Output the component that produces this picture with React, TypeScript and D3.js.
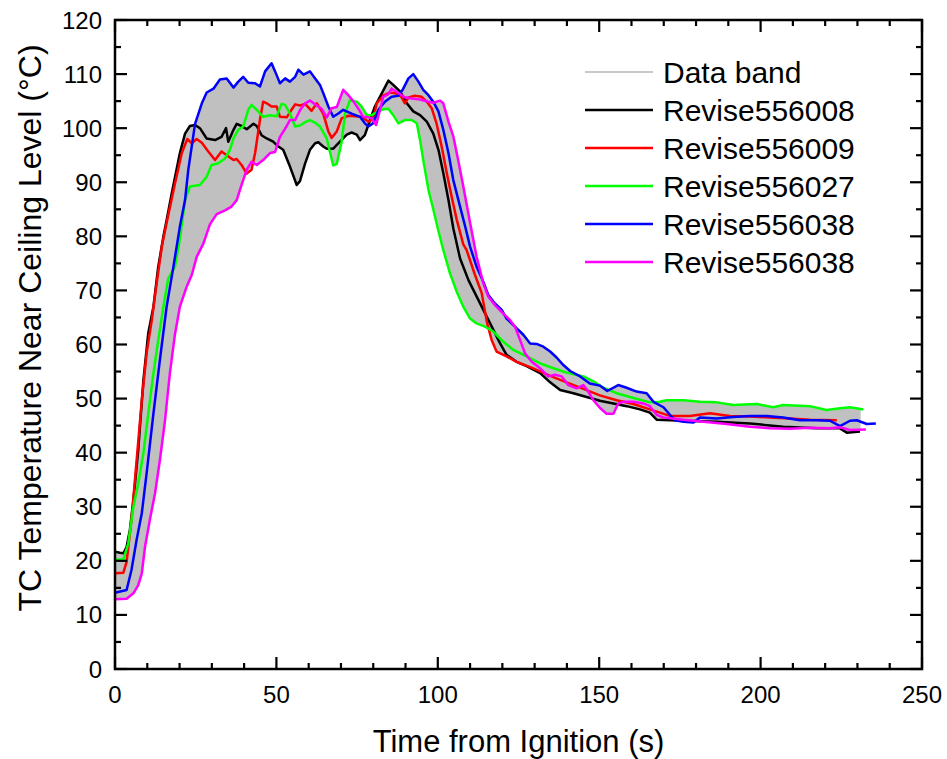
import React from 'react';
import * as d3 from 'd3';

// ---------- data ----------
const seriesNames = ['Revise556008', 'Revise556009', 'Revise556027', 'Revise556038', 'Revise556038'];
const seriesColors = ['#000000', '#ff0000', '#00ff00', '#0000ff', '#ff00ff'];

const t008 = [0,1.5,2.6,3.6,4.6,5.7,7.2,8.8,10.3,11.9,13.4,15,16,17.6,20.1,21.7,23.2,24.8,26.3,28.4,31,33,34.4,35.1,36.7,37.7,39.2,40.8,42.9,43.9,45.4,47,49,50.6,52.1,54.2,56.3,57.3,58.9,60.4,62,63,64.5,65.6,67.6,69.7,71.8,73.3,74.9,75.9,77.4,79,80.5,82.6,84.7,86.2,88.3,90.4,92.4,94.5,96.6,98.6,100.2,101.7,103.3,104.8,106.9,109.5,113.1,116.2,119.3,121.3,124.4,127.5,131.7,134.8,137.9,142,146.1,150.2,154.4,158.5,162.6,165.7,167.8,176.1,186.4,196.7,207,217.4,224.6,226.7,230.8];
const v008 = [21.7,21.5,21.4,22.6,25.7,31.2,40.5,53.4,62.1,67,74.4,80,83,88,95.4,99,100.4,100.6,100,98.1,97.8,98.4,100,97.5,99.7,100.8,100.4,99.8,100.8,100.4,98.7,98.1,97.5,96.6,96,92.9,89.5,90.2,93.5,96,97.2,97.4,96.6,96.2,96.2,97.5,98.8,99.2,98.8,97.8,98.7,101.5,104,106.4,108.8,108,106.8,104.6,103.1,102.4,101.2,99,96,91.7,86.7,81.5,75.9,71.9,67.6,63.9,60.2,58.1,56.8,56,54.7,53,51.6,51,50.3,49.6,49.1,48.6,48,47.4,46.1,45.9,45.7,45.4,44.8,44.5,44.5,43.7,43.9];

const t009 = [0,2.6,3.6,5.1,6.7,8.3,9.8,11.4,12.9,14.5,16,18.6,20.7,22.4,23.8,25.3,26.9,28.9,31,33,34.6,36.7,37.7,39.2,40.8,42.3,43.4,44.9,45.9,47,48.5,50.1,51.1,53.2,54.7,55.8,57.3,58.9,60.9,62.5,64.5,66.1,67.1,68.7,70.2,72.3,74.4,76.4,78.5,80,81.1,83.1,85.2,87.3,88.8,89.8,90.9,92.9,95,96.6,98.1,99.6,101.2,102.8,104.3,105.9,107.9,108.9,111.5,113.6,115.3,116.7,118.2,121.3,124.4,129.6,134.8,139.9,145.1,150.2,155.4,160.6,165.7,171.9,178.1,184.3,190.5,196.7,202.9,209.1,215.3,223.6];
const v009 = [17.7,17.8,19.8,27.6,38.6,49.7,58.4,64.5,71.3,78.1,82.5,89.8,95.4,98,97.2,98,97.3,95.7,94.1,95.7,95,94.1,94.3,93.2,91.6,92.3,95.4,101.5,104.9,104.6,104,104,102.1,102,103.4,104.4,104.2,104.5,103.2,104.6,102.7,99.4,98.2,99.4,101.8,102.3,102.2,102.1,101.2,101.8,104.6,106,106.6,106.4,105.7,104.6,105.7,106,105.8,104.9,103.7,100.9,96.6,91.6,87.3,83,78.5,77.5,72.9,69.5,63.9,60.8,58.7,57.8,56.8,55.6,54.2,53,51.8,50.6,49.7,49,48,46.8,46.8,47.3,46.8,46.7,46.5,46.3,46.1,46];

const t027 = [0,2.6,4.1,5.7,7.2,8.8,10.3,11.9,13.4,15,16.5,18.6,20.1,21.7,23.2,26.3,28.4,29.9,32,34.1,35.6,36.7,38.2,39.7,41.3,42.3,43.9,45.9,48,50.1,51.6,52.7,54.2,55.8,57.3,58.9,60.4,62,63.5,65.6,67.6,68.7,70.2,71.3,72.8,74.9,76.4,78,79.5,81.6,83.1,84.7,86.2,87.8,89.8,91.9,93.5,94.5,95.5,97.1,98.6,100.2,101.7,103.8,105.9,107.9,110,112,114.6,117.2,120.3,123.4,127.5,131.7,135.8,139.9,145.1,148.2,151.3,155.4,160.6,165.7,168.8,170.9,176.1,181.2,186.4,191.5,198.8,203.9,207,215.3,220.4,224.6,227.7,231.8];
const v027 = [20.2,20.3,23.2,30,34.3,39.9,47.2,54.6,60.8,67,72.2,74.4,79.5,86.7,89.2,89.5,91,93.2,93.5,94.4,96,98.1,99.7,100.3,103.4,104.3,103.4,102.1,102.4,102.2,104.5,104.3,102.7,100.3,100.5,101.1,101.5,101,100.3,98.1,93.1,93.4,97.5,102.7,105.2,104.9,104,102.4,102.4,103.1,103.5,103.6,102.4,100.9,101.5,101.5,100.9,97.8,94.1,88.6,85,81,77.5,73.1,69.7,67,64.8,63.9,63.3,62.4,60.5,59,57.8,56.5,55.6,54.8,54.1,53.2,52,51,50.1,49.3,49.4,49.7,49.7,49.4,49.3,48.8,49,48.4,48.8,48.6,47.9,48.2,48.4,48];

const t038a = [0,3.6,5.1,6.7,8.3,9.8,11.9,13.9,16,18.1,20.1,21.7,22.7,24.8,26.9,28.4,30.5,32.5,34.6,36.7,38.2,39.7,41.3,43.4,44.9,46.5,48.5,49.6,51.1,52.7,54.2,55.8,56.8,58.4,60.4,62,63.5,64.5,66.1,67.6,69.2,70.7,73.3,75.9,77.4,78.5,80,81.6,83.6,85.7,87.8,89.3,90.9,92.4,94,95.5,97.1,98.6,100.2,101.7,103.3,104.8,106.9,108.4,110,112,114.1,115.6,117.7,119.8,121.3,123.9,126.5,128.6,130.6,132.7,134.8,136.8,138.9,141,144.1,147.1,150.2,152.5,155.9,158.5,161.6,164.7,166.8,169.9,171.9,173.5,176.1,179.2,181.2,186.4,191.5,196.7,201.9,207,212.2,217.4,221.5,224.6,227.7,229.8,232.9,235.7];
const v038a = [14.1,14.6,18.3,23.9,28.8,36.2,47.2,57.1,67,74.4,81.8,86.7,92.3,100.8,104.6,106.6,107.3,109,109.2,107.5,108.6,109.5,108.4,108.3,107.7,110.5,112,110.5,108.3,109.2,108.6,109.5,110.8,109.9,110.5,109.2,108,106.5,104,102.1,102.7,103.4,102.7,102.1,100.9,100.3,100.9,103.4,104.9,105.8,106,107.3,109.2,110,108.6,107.1,106.1,104.9,103.1,99.7,95.4,90.4,85.5,82,78.1,74.4,71.6,69.2,67.6,66.4,64.8,63.3,61.8,60.2,60.1,59.6,58.7,57.6,56.2,55.1,54.1,52.8,52.4,51.4,52.5,52,51.3,51,49.4,48.4,47,46,45.7,45.6,46.5,46.3,46.6,46.8,46.8,46.5,46,46,45.9,44.9,45.9,46,45.3,45.4];

const t038b = [0,3.6,5.7,7.2,8.3,9.3,10.8,12.4,13.9,15.5,17,18.6,20.1,22.2,23.8,25.3,27.4,29.4,31.5,34.1,36.1,37.7,39.2,40.8,42.3,43.9,45.9,48,49.6,51.1,52.7,54.2,55.8,57.3,58.9,60.4,62.5,64,65.6,67.1,68.7,70.7,72.3,73.8,75.4,76.9,78.5,79.5,80.9,82.1,83.1,84.7,85.7,87.3,88.8,89.8,91.9,94.5,97.1,98.6,100.7,101.7,103.3,104.8,106.3,107.9,110,112,114.1,115.6,117.7,120.3,122.4,123.9,125.5,127,129.1,131.7,134.2,136.3,138.4,140.4,143,145.1,146.6,148.2,150.2,152.3,154.4,155.9,157.5,160.6,163.7,165.7,167.8,169.9,176.1,182.3,189.5,196.7,202.9,209.1,215.3,221.5,224.6,227.7,232.6];
const v038b = [12.9,13,14,15.5,17.7,22.6,27.6,32.5,38.6,46,54.7,62,67,70.7,72.9,76.2,78.7,82.2,84.1,84.8,85.5,86.7,89.5,92.3,93.8,93.2,94.1,95.4,95.6,98.4,99.9,101.5,101.5,103.3,104.6,105.1,104.2,103.6,102,103.7,103.9,107.1,106.1,105,103.6,102.1,102,101.8,100.6,103.4,105.8,106.3,107.3,106.7,106.1,105.7,105.5,105.3,104.9,104.7,105.1,104.6,101.2,98.5,94.1,89.2,82.5,76.3,71.3,68.9,67.3,65.7,64.5,63.3,60.8,58.4,56.8,55.6,54.1,54.4,54.1,52.5,51.9,52.5,51.3,49.7,48.3,47.2,47.2,49.1,49.4,49.4,49.1,48.6,47,46.5,46.1,45.7,45.3,44.8,44.5,44.4,44.6,44.5,44.7,44.2,44.3];

const seriesTimes = [t008, t009, t027, t038a, t038b];
const seriesValues = [v008, v009, v027, v038a, v038b];
const bandEnd = 231;

const xMajor = [0, 50, 100, 150, 200, 250];
const yMajor = [0, 10, 20, 30, 40, 50, 60, 70, 80, 90, 100, 110, 120];

// ---------- layout ----------
const W = 947, H = 759;
const L = 115, R = 922, T = 20, B = 669;
const FONT = '"Liberation Sans", Arial, Helvetica, sans-serif';

export default function App() {
  const x = d3.scaleLinear().domain([0, 250]).range([L, R]);
  const y = d3.scaleLinear().domain([0, 120]).range([B, T]);

  const series = seriesTimes.map((ts, i) => ts.map((t, j) => [t, seriesValues[i][j]] as [number, number]));

  // envelope of all series (band)
  const interp = (pts: [number, number][], t: number): number | null => {
    if (t < pts[0][0] || t > pts[pts.length - 1][0]) return null;
    const k = d3.bisector((d: [number, number]) => d[0]).left(pts, t);
    if (k === 0) return pts[0][1];
    const a = pts[k - 1], b = pts[k];
    return a[1] + (b[1] - a[1]) * (t - a[0]) / (b[0] - a[0]);
  };
  const allT = Array.from(new Set(seriesTimes.flat().filter(t => t <= bandEnd))).sort((a, b) => a - b);
  if (allT[allT.length - 1] < bandEnd) allT.push(bandEnd);
  const band = allT.map(t => {
    const vals = series.map(p => interp(p, t)).filter(v => v !== null) as number[];
    return { t, lo: d3.min(vals)!, hi: d3.max(vals)! };
  });
  const area = d3.area<{ t: number; lo: number; hi: number }>()
    .x(d => x(d.t)).y0(d => y(d.lo)).y1(d => y(d.hi));
  const line = d3.line<[number, number]>().x(d => x(d[0])).y(d => y(d[1]));

  const xMinor = d3.range(0, 251, 10);
  const yMinor = d3.range(0, 121, 5);

  const legendItems = [{ name: 'Data band', color: '#c8c8c8', w: 2 }, ...seriesNames.map((n, i) => ({ name: n, color: seriesColors[i], w: 2.5 }))];

  return (
    <svg width={W} height={H} style={{ position: 'absolute', left: 0, top: 0, background: '#fff' }} fontFamily={FONT}>
      <rect x={0} y={0} width={W} height={H} fill="#fff" />
      <path d={area(band)!} fill="#c0c0c0" stroke="none" />
      {series.map((s, i) => (
        <path key={i} d={line(s)!} fill="none" stroke={seriesColors[i]} strokeWidth={2.5} strokeLinejoin="round" />
      ))}
      {/* ticks */}
      <g stroke="#000" strokeWidth={2.2}>
        {xMinor.map(v => {
          const major = v % 50 === 0;
          const len = major ? 12 : 6;
          return (
            <g key={'x' + v}>
              <line x1={x(v)} x2={x(v)} y1={B} y2={B - len} />
              <line x1={x(v)} x2={x(v)} y1={T} y2={T + len} />
            </g>
          );
        })}
        {yMinor.map(v => {
          const major = v % 10 === 0;
          const len = major ? 12 : 6;
          return (
            <g key={'y' + v}>
              <line x1={L} x2={L + len} y1={y(v)} y2={y(v)} />
              <line x1={R} x2={R - len} y1={y(v)} y2={y(v)} />
            </g>
          );
        })}
      </g>
      <rect x={L} y={T} width={R - L} height={B - T} fill="none" stroke="#000" strokeWidth={2.5} />
      {/* tick labels */}
      <g fontSize={24} fill="#000">
        {xMajor.map(v => (
          <text key={v} x={x(v)} y={703} textAnchor="middle">{v}</text>
        ))}
        {yMajor.map(v => (
          <text key={v} x={102} y={y(v) + 8.5} textAnchor="end">{v}</text>
        ))}
      </g>
      {/* axis titles */}
      <text x={(L + R) / 2} y={752} textAnchor="middle" fontSize={31}>Time from Ignition (s)</text>
      <text transform={`translate(41,328) rotate(-90)`} textAnchor="middle" fontSize={32}>TC Temperature Near Ceiling Level (°C)</text>
      {/* legend */}
      <g>
        {legendItems.map((it, i) => {
          const cy = 72 + i * 38;
          return (
            <g key={i}>
              <line x1={585} x2={653} y1={cy} y2={cy} stroke={it.color} strokeWidth={it.w} />
              <text x={663} y={cy + 11} fontSize={30}>{it.name}</text>
            </g>
          );
        })}
      </g>
    </svg>
  );
}
